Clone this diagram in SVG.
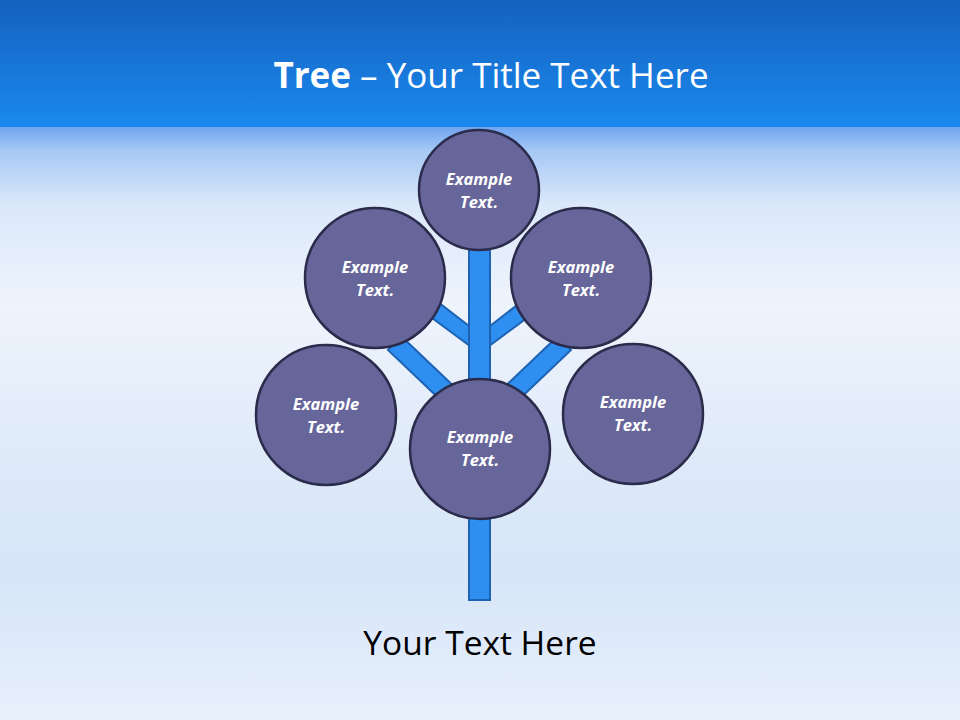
<svg xmlns="http://www.w3.org/2000/svg" width="960" height="720" viewBox="0 0 960 720">
<defs>
<linearGradient id="hdr" x1="0" y1="0" x2="0" y2="1">
<stop offset="0" stop-color="#1561bf"/>
<stop offset="1" stop-color="#1a89ee"/>
</linearGradient>
<linearGradient id="sky" x1="0" y1="0" x2="0" y2="1">
<stop offset="0" stop-color="#6fa5f0"/>
<stop offset="0.04" stop-color="#a6c8f5"/>
<stop offset="0.13" stop-color="#dbe8fa"/>
<stop offset="0.3" stop-color="#eef4fc"/>
<stop offset="0.55" stop-color="#dfeaf9"/>
<stop offset="0.75" stop-color="#d6e5f8"/>
<stop offset="1" stop-color="#e8f0fb"/>
</linearGradient>
<style>
.node circle{fill:#67669a;stroke:#2b2b4c;stroke-width:2.5}
.node text{fill:#ffffff;font-family:"Open Sans","Liberation Sans",sans-serif;font-weight:bold;font-style:italic;font-size:16.5px;text-anchor:middle}
.br{fill:#2f8ff0;stroke:#1e63b3;stroke-width:2}
</style>
</defs>
<rect x="0" y="127" width="960" height="593" fill="url(#sky)"/>
<rect x="0" y="0" width="960" height="127" fill="url(#hdr)"/>
<text x="491" y="88" font-family="Open Sans,Liberation Sans,sans-serif" font-size="35" fill="#ffffff" text-anchor="middle"><tspan font-weight="bold">Tree</tspan> – Your Title Text Here</text>
<g id="connectors">
<polygon class="br" points="424,312 434,299 478,333 470,346"/>
<polygon class="br" points="535,312 525,299 481,333 489,346"/>
<polygon class="br" points="388,350 401,336 462,394 449,408"/>
<polygon class="br" points="571,350 558,336 497,394 510,408"/>
<rect class="br" x="469" y="245" width="21" height="355"/>
</g>
<g id="n1" class="node"><circle cx="479" cy="190" r="60"/><text x="479" y="185">Example</text><text x="479" y="208">Text.</text></g>
<g id="n2" class="node"><circle cx="375" cy="278" r="70"/><text x="375" y="273">Example</text><text x="375" y="296">Text.</text></g>
<g id="n3" class="node"><circle cx="581" cy="278" r="70"/><text x="581" y="273">Example</text><text x="581" y="296">Text.</text></g>
<g id="n4" class="node"><circle cx="326" cy="415" r="70"/><text x="326" y="410">Example</text><text x="326" y="433">Text.</text></g>
<g id="n5" class="node"><circle cx="480" cy="449" r="70"/><text x="480" y="443">Example</text><text x="480" y="466">Text.</text></g>
<g id="n6" class="node"><circle cx="633" cy="414" r="70"/><text x="633" y="408">Example</text><text x="633" y="431">Text.</text></g>
<text x="480" y="655" font-family="Open Sans,Liberation Sans,sans-serif" font-size="33.5" fill="#000000" text-anchor="middle">Your Text Here</text>
</svg>
